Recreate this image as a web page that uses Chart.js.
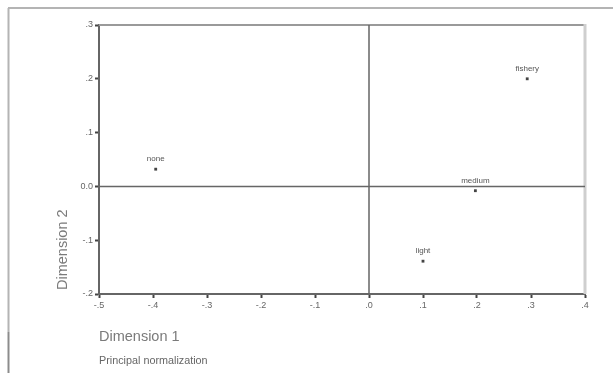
<!DOCTYPE html>
<html>
<head>
<meta charset="utf-8">
<script src="https://cdn.jsdelivr.net/npm/chart.js@4/dist/chart.umd.min.js"></script>
<style>
  html, body { margin: 0; padding: 0; background: #fff; }
  #wrap { width: 613px; height: 373px; position: relative; }
</style>
</head>
<body>
<div id="wrap"><canvas id="c" width="613" height="373"></canvas></div>
<script>
// Category points on the first two dimensions
const categories = ["none", "medium", "light", "fishery"];
const dim1 = [-0.395, 0.197, 0.100, 0.293];
const dim2 = [0.032, -0.008, -0.139, 0.200];

// Axis ticks
const xTickValues = [-0.5, -0.4, -0.3, -0.2, -0.1, 0, 0.1, 0.2, 0.3, 0.4];
const xTickLabels = ["-.5", "-.4", "-.3", "-.2", "-.1", ".0", ".1", ".2", ".3", ".4"];
const yTickValues = [-0.2, -0.1, 0, 0.1, 0.2, 0.3];
const yTickLabels = ["-.2", "-.1", "0.0", ".1", ".2", ".3"];

const FONT = "'Liberation Sans', Arial, sans-serif";

const framePlugin = {
  id: 'frame',
  beforeDraw(chart) {
    const ctx = chart.ctx;
    ctx.save();
    ctx.fillStyle = '#fff';
    ctx.fillRect(0, 0, chart.width, chart.height);
    // outer border
    ctx.lineWidth = 2;
    ctx.strokeStyle = '#b4b4b4';
    ctx.beginPath();
    ctx.moveTo(8, 8); ctx.lineTo(chart.width, 8);
    ctx.moveTo(8.5, 8); ctx.lineTo(8.5, 332);
    ctx.stroke();
    ctx.strokeStyle = '#8c8c8c';
    ctx.beginPath();
    ctx.moveTo(8.5, 332); ctx.lineTo(8.5, chart.height);
    ctx.stroke();
    ctx.restore();
  },
  beforeDatasetsDraw(chart) {
    const { ctx, chartArea: a, scales } = chart;
    ctx.save();
    // plot frame, top and right
    ctx.lineWidth = 2;
    ctx.strokeStyle = '#9a9a9a';
    ctx.beginPath();
    ctx.moveTo(a.left, a.top); ctx.lineTo(a.right, a.top);
    ctx.stroke();
    ctx.lineWidth = 3;
    ctx.strokeStyle = '#cfcfcf';
    ctx.beginPath();
    ctx.moveTo(a.right, a.top - 1); ctx.lineTo(a.right, a.bottom);
    ctx.stroke();
    // reference lines through the origin
    const x0 = scales.x.getPixelForValue(0);
    const y0 = scales.y.getPixelForValue(0);
    ctx.lineWidth = 1.5;
    ctx.strokeStyle = '#666';
    ctx.beginPath();
    ctx.moveTo(x0, a.top); ctx.lineTo(x0, a.bottom);
    ctx.moveTo(a.left, y0); ctx.lineTo(a.right, y0);
    ctx.stroke();
    ctx.restore();
  },
  afterDatasetsDraw(chart) {
    const { ctx, chartArea: a } = chart;
    const meta = chart.getDatasetMeta(0);
    ctx.save();
    // point labels
    ctx.font = '8px ' + FONT;
    ctx.fillStyle = '#555';
    ctx.textAlign = 'center';
    ctx.textBaseline = 'middle';
    meta.data.forEach((pt, i) => {
      ctx.fillText(categories[i], pt.x, pt.y - 10);
    });
    // axis titles
    ctx.fillStyle = '#7a7a7a';
    ctx.font = '14.5px ' + FONT;
    ctx.textAlign = 'left';
    ctx.fillText('Dimension 1', a.left, 337);
    ctx.save();
    ctx.translate(63, a.bottom - 4);
    ctx.rotate(-Math.PI / 2);
    ctx.fillText('Dimension 2', 0, 0);
    ctx.restore();
    // normalization note
    ctx.fillStyle = '#666';
    ctx.font = '10.8px ' + FONT;
    ctx.fillText('Principal normalization', a.left, 361);
    ctx.restore();
  }
};

new Chart(document.getElementById('c'), {
  type: 'scatter',
  data: {
    datasets: [{
      data: categories.map((c, i) => ({ x: dim1[i], y: dim2[i] })),
      pointStyle: 'rect',
      pointRadius: 2,
      pointHoverRadius: 2,
      backgroundColor: '#444',
      borderColor: '#444',
      borderWidth: 0
    }]
  },
  options: {
    responsive: false,
    animation: false,
    devicePixelRatio: 1,
    layout: { padding: { left: 0, top: 25, right: 28, bottom: 0 } },
    plugins: { legend: { display: false }, tooltip: { enabled: false }, title: { display: false } },
    scales: {
      x: {
        type: 'linear',
        min: -0.5, max: 0.4,
        afterBuildTicks: s => { s.ticks = xTickValues.map(v => ({ value: v })); },
        afterFit: s => { s.height = 79; },
        ticks: {
          callback: (v, i) => xTickLabels[i],
          font: { family: FONT, size: 9 },
          color: '#666',
          padding: 2,
          maxRotation: 0,
          autoSkip: false
        },
        grid: { drawOnChartArea: false, drawTicks: true, tickLength: 4, tickWidth: 2, tickColor: '#444' },
        border: { display: true, color: '#666', width: 2 }
      },
      y: {
        type: 'linear',
        min: -0.2, max: 0.3,
        afterBuildTicks: s => { s.ticks = yTickValues.map(v => ({ value: v })); },
        afterFit: s => { s.width = 99; },
        ticks: {
          callback: (v, i) => yTickLabels[i],
          font: { family: FONT, size: 9 },
          color: '#666',
          padding: 2,
          autoSkip: false
        },
        grid: { drawOnChartArea: false, drawTicks: true, tickLength: 4, tickWidth: 2, tickColor: '#444' },
        border: { display: true, color: '#666', width: 2 }
      }
    }
  },
  plugins: [framePlugin]
});
</script>
</body>
</html>
